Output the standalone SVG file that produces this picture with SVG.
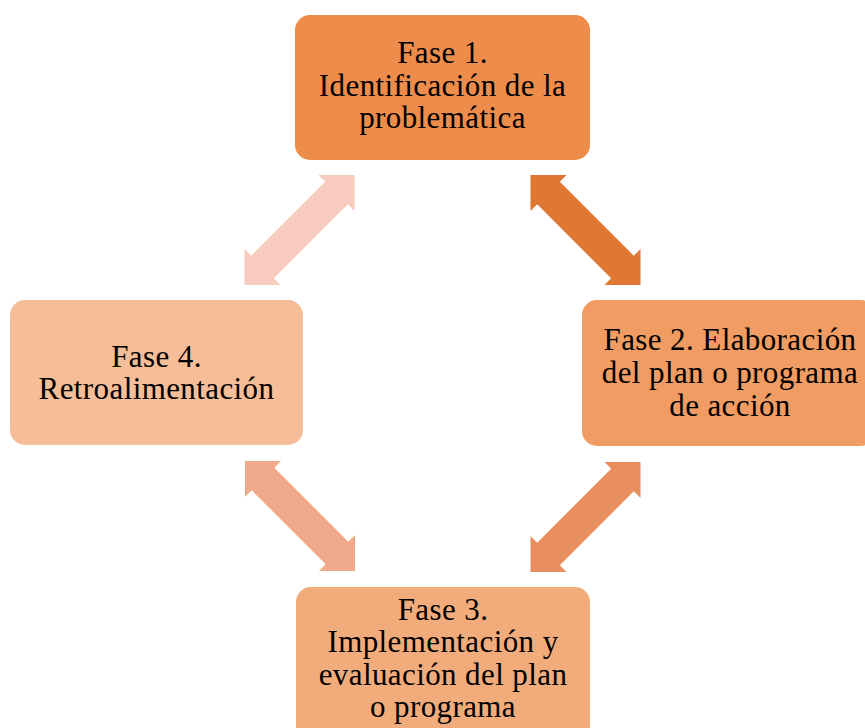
<svg xmlns="http://www.w3.org/2000/svg" width="865" height="728" viewBox="0 0 865 728">
<style>
.lbl{font-family:"Liberation Serif","Times New Roman",serif;font-size:31px;letter-spacing:0.4px;fill:#000;text-anchor:middle}
</style>
<defs>
<path id="dblArrow" d="M-77.8,0 L-52.3,-25.5 L-52.3,-16 L52.3,-16 L52.3,-25.5 L77.8,0 L52.3,25.5 L52.3,16 L-52.3,16 L-52.3,25.5 Z"/>
</defs>
<rect width="865" height="728" fill="#ffffff"/>
<g id="connectors">
<use href="#dblArrow" transform="translate(585.5,230) rotate(45)" fill="#E07732"/>
<use href="#dblArrow" transform="translate(585.5,517) rotate(-45)" fill="#E98F5F"/>
<use href="#dblArrow" transform="translate(300,516) rotate(45)" fill="#F0AA8B"/>
<use href="#dblArrow" transform="translate(299.5,230) rotate(-45)" fill="#F7CCBE"/>
</g>
<g id="fase1">
<rect x="295" y="15" width="295" height="145" rx="15" fill="#ED8C4B"/>
<text class="lbl" x="442.5" y="63">Fase 1.</text>
<text class="lbl" x="442.5" y="96">Identificación de la</text>
<text class="lbl" x="442.5" y="128">problemática</text>
</g>
<g id="fase2">
<rect x="582" y="300" width="293" height="146" rx="15" fill="#F09C62"/>
<text class="lbl" x="730" y="350">Fase 2. Elaboración</text>
<text class="lbl" x="730" y="383">del plan o programa</text>
<text class="lbl" x="730" y="416">de acción</text>
</g>
<g id="fase3">
<rect x="296" y="587" width="294" height="160" rx="15" fill="#F2AC7B"/>
<text class="lbl" x="443" y="620">Fase 3.</text>
<text class="lbl" x="443" y="652">Implementación y</text>
<text class="lbl" x="443" y="685">evaluación del plan</text>
<text class="lbl" x="443" y="717">o programa</text>
</g>
<g id="fase4">
<rect x="10" y="300" width="293" height="145" rx="15" fill="#F5BD98"/>
<text class="lbl" x="156.5" y="367">Fase 4.</text>
<text class="lbl" x="156.5" y="399">Retroalimentación</text>
</g>
</svg>
